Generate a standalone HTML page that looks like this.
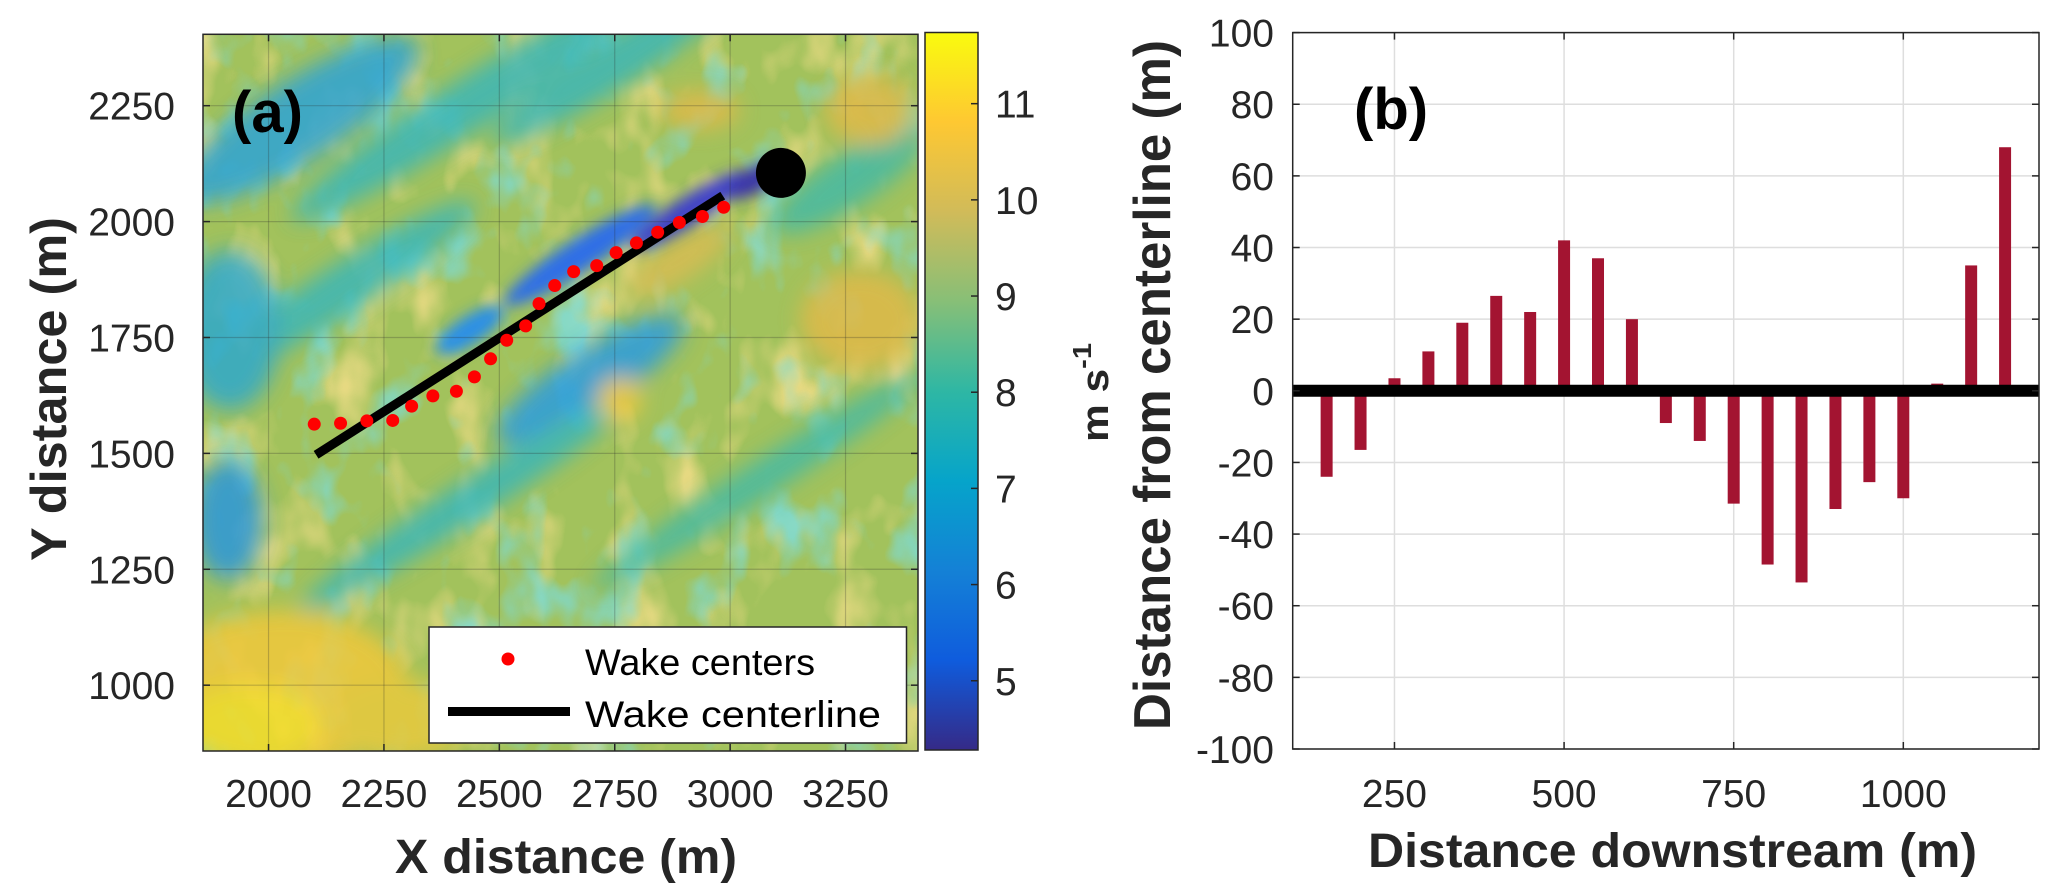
<!DOCTYPE html>
<html><head><meta charset="utf-8"><title>Wake analysis</title>
<style>
html,body{margin:0;padding:0;background:#fff;}
svg{display:block;font-family:"Liberation Sans",Arial,sans-serif;}
</style></head>
<body>
<svg id="fig" width="2064" height="895" viewBox="0 0 2064 895" xmlns="http://www.w3.org/2000/svg">
<defs>
  <filter id="blur1" x="-50%" y="-50%" width="200%" height="200%"><feGaussianBlur stdDeviation="11"/></filter>
  <filter id="blur2" x="-50%" y="-50%" width="200%" height="200%"><feGaussianBlur stdDeviation="7"/></filter>
  <filter id="noiseWarm" x="0" y="0" width="100%" height="100%">
    <feTurbulence type="fractalNoise" baseFrequency="0.018 0.012" numOctaves="3" seed="4"/>
    <feColorMatrix type="matrix" values="0 0 0 0 0.93  0 0 0 0 0.74  0 0 0 0 0.26  3.2 0 0 0 -1.65"/>
  </filter>
  <filter id="noiseCool" x="0" y="0" width="100%" height="100%">
    <feTurbulence type="fractalNoise" baseFrequency="0.02 0.014" numOctaves="3" seed="11"/>
    <feColorMatrix type="matrix" values="0 0 0 0 0.2  0 0 0 0 0.72  0 0 0 0 0.72  3.2 0 0 0 -1.7"/>
  </filter>
  <clipPath id="clipA"><rect x="203" y="34.3" width="715" height="716.7"/></clipPath>
  <linearGradient id="parula" x1="0" y1="1" x2="0" y2="0">
    <stop offset="0" stop-color="#352A87"/>
    <stop offset="0.125" stop-color="#0F5CDD"/>
    <stop offset="0.25" stop-color="#1481D6"/>
    <stop offset="0.375" stop-color="#06A4CA"/>
    <stop offset="0.5" stop-color="#2EB7A4"/>
    <stop offset="0.625" stop-color="#87BF77"/>
    <stop offset="0.75" stop-color="#D1BB59"/>
    <stop offset="0.875" stop-color="#FEC832"/>
    <stop offset="1" stop-color="#F9FB0E"/>
  </linearGradient>
</defs>

<g id="heatmap" clip-path="url(#clipA)">
  <rect x="203" y="34.3" width="715" height="716.7" fill="#a2c25c"/>
  <rect x="203" y="34.3" width="715" height="716.7" filter="url(#noiseWarm)" opacity="0.8"/>
  <rect x="203" y="34.3" width="715" height="716.7" filter="url(#noiseCool)" opacity="0.8"/>
  <g filter="url(#blur1)" opacity="0.85">
    <ellipse cx="300" cy="120" rx="140" ry="40" fill="#2ea3d6" transform="rotate(-33 300 120)"/>
    <ellipse cx="460" cy="110" rx="200" ry="26" fill="#3bb6b8" transform="rotate(-33 460 110)"/>
    <ellipse cx="620" cy="60" rx="150" ry="24" fill="#3bb6b8" transform="rotate(-33 620 60)"/>
    <ellipse cx="340" cy="290" rx="160" ry="24" fill="#3bb6b8" transform="rotate(-33 340 290)"/>
    <ellipse cx="230" cy="330" rx="50" ry="80" fill="#2fa8cc"/>
    <ellipse cx="228" cy="520" rx="35" ry="60" fill="#2a96dc"/>
    <ellipse cx="590" cy="380" rx="110" ry="30" fill="#2a9be0" transform="rotate(-33 590 380)"/>
    <ellipse cx="470" cy="500" rx="200" ry="20" fill="#3bb6b8" transform="rotate(-33 470 500)"/>
    <ellipse cx="760" cy="480" rx="200" ry="18" fill="#45b9a5" transform="rotate(-33 760 480)"/>
    <ellipse cx="850" cy="180" rx="90" ry="26" fill="#45b9a5" transform="rotate(-33 850 180)"/>
    <ellipse cx="860" cy="320" rx="60" ry="50" fill="#e0b94a"/>
    <ellipse cx="870" cy="110" rx="45" ry="35" fill="#e0b94a"/>
    <ellipse cx="700" cy="110" rx="40" ry="20" fill="#e0b94a"/>
    <ellipse cx="620" cy="400" rx="22" ry="22" fill="#f0c840"/>
    <ellipse cx="280" cy="690" rx="130" ry="80" fill="#f1c83a"/>
    <ellipse cx="250" cy="725" rx="70" ry="40" fill="#f6dd2c"/>
    <ellipse cx="400" cy="720" rx="70" ry="40" fill="#e9c93d"/>
    <ellipse cx="680" cy="260" rx="60" ry="20" fill="#d9bc52" transform="rotate(-33 680 260)"/>
  </g>
  <g filter="url(#blur2)">
    <ellipse cx="470" cy="330" rx="40" ry="14" fill="#2b8fe6" transform="rotate(-33 470 330)"/>
    <ellipse cx="580" cy="255" rx="90" ry="16" fill="#2f6ee6" transform="rotate(-33 580 255)"/>
    <ellipse cx="690" cy="210" rx="70" ry="14" fill="#4143c8" transform="rotate(-33 690 210)"/>
    <ellipse cx="755" cy="180" rx="30" ry="12" fill="#3b35a8" transform="rotate(-33 755 180)"/>
  </g>
</g>
<g id="gridA"></g>
<rect x="203" y="34.3" width="715" height="716.7" fill="none" stroke="#262626" stroke-width="1.5"/>
<g id="axesA"></g>
<g id="marksA"></g>
<text x="232" y="132" font-size="58" font-weight="bold" fill="#000">(a)</text>

<g>
  <rect x="429" y="627" width="477.5" height="116" fill="#fff" stroke="#262626" stroke-width="1.5"/>
  <circle cx="508" cy="659" r="6.5" fill="#ff0000"/>
  <text x="585" y="675" font-size="37" fill="#000" textLength="230" lengthAdjust="spacingAndGlyphs">Wake centers</text>
  <line x1="448" y1="711.5" x2="570" y2="711.5" stroke="#000" stroke-width="9"/>
  <text x="585" y="727" font-size="37" fill="#000" textLength="296" lengthAdjust="spacingAndGlyphs">Wake centerline</text>
</g>

<rect x="925" y="32.5" width="53" height="717.5" fill="url(#parula)" stroke="#262626" stroke-width="1.5"/>
<g id="cbTicks"></g>
<text transform="translate(1108,442) rotate(-90)" font-size="38" font-weight="bold" fill="#262626" textLength="99" lengthAdjust="spacingAndGlyphs">m s<tspan font-size="26" dy="-17">-1</tspan></text>

<text transform="translate(66,561) rotate(-90)" font-size="50" font-weight="bold" fill="#262626" textLength="344" lengthAdjust="spacingAndGlyphs">Y distance (m)</text>
<text x="395" y="873" font-size="48" font-weight="bold" fill="#262626" textLength="342" lengthAdjust="spacingAndGlyphs">X distance (m)</text>

<g id="gridB"></g>
<g id="barsB"></g>
<g id="axesB"></g>
<rect x="1292.7" y="32.6" width="746.3" height="716.4" fill="none" stroke="#262626" stroke-width="1.5"/>
<text x="1354" y="129" font-size="58" font-weight="bold" fill="#000">(b)</text>
<text transform="translate(1170,730) rotate(-90)" font-size="52" font-weight="bold" fill="#262626" textLength="690" lengthAdjust="spacingAndGlyphs">Distance  from  centerline (m)</text>
<text x="1368" y="867" font-size="48" font-weight="bold" fill="#262626" textLength="609" lengthAdjust="spacingAndGlyphs">Distance  downstream (m)</text>

<script>
// ---- Panel A data ----
const aXTicks = [2000, 2250, 2500, 2750, 3000, 3250];
const aYTicks = [1000, 1250, 1500, 1750, 2000, 2250];
const wakeX = [2099, 2156, 2213, 2269, 2310, 2356, 2407, 2446, 2481, 2516, 2557, 2586, 2620, 2661, 2711, 2753, 2797, 2843, 2890, 2940, 2986];
const wakeY = [1563, 1565, 1570, 1571, 1602, 1624, 1634, 1665, 1704, 1744, 1775, 1823, 1862, 1892, 1905, 1933, 1954, 1977, 1998, 2011, 2031];
const lineX = [2103, 2984];
const lineY = [1497, 2056];
const turbineX = [3110];
const turbineY = [2105];
const cbTicks = [5, 6, 7, 8, 9, 10, 11];
// ---- Panel B data ----
const bCategories = [150, 200, 250, 300, 350, 400, 450, 500, 550, 600, 650, 700, 750, 800, 850, 900, 950, 1000, 1050, 1100, 1150];
const bValues = [-24, -16.5, 3.5, 11, 19, 26.5, 22, 42, 37, 20, -9, -14, -31.5, -48.5, -53.5, -33, -25.5, -30, 2, 35, 68];
const bXTicks = [250, 500, 750, 1000];
const bYTicks = [-100, -80, -60, -40, -20, 0, 20, 40, 60, 80, 100];

const NS = "http://www.w3.org/2000/svg";
function mk(tag, attrs, parent) {
  const e = document.createElementNS(NS, tag);
  for (const k in attrs) e.setAttribute(k, attrs[k]);
  parent.appendChild(e);
  return e;
}
const A = {x0: 203, x1: 918, y0: 34.3, y1: 751, xmin: 1858, xmax: 3407, ymin: 858, ymax: 2404};
function xA(v) { return A.x0 + (v - A.xmin) / (A.xmax - A.xmin) * (A.x1 - A.x0); }
function yA(v) { return A.y0 + (A.ymax - v) / (A.ymax - A.ymin) * (A.y1 - A.y0); }
const CB = {y0: 32.5, y1: 750, vmin: 4.28, vmax: 11.74};
function yCB(v) { return CB.y1 - (v - CB.vmin) / (CB.vmax - CB.vmin) * (CB.y1 - CB.y0); }
const B = {x0: 1292.7, x1: 2039, y0: 32.6, y1: 749, xmin: 100, xmax: 1200, ymin: -100, ymax: 100};
function xB(v) { return B.x0 + (v - B.xmin) / (B.xmax - B.xmin) * (B.x1 - B.x0); }
function yB(v) { return B.y0 + (B.ymax - v) / (B.ymax - B.ymin) * (B.y1 - B.y0); }

const gA = document.getElementById('gridA');
const axA = document.getElementById('axesA');
aXTicks.forEach(t => {
  const x = xA(t);
  const g = mk('line', {x1: x, x2: x, y1: A.y0, y2: A.y1, stroke: 'rgba(40,40,40,0.25)', 'stroke-width': 1.2}, gA);
  
  
  mk('line', {x1: x, x2: x, y1: A.y1, y2: A.y1 - 7, stroke: '#262626', 'stroke-width': 1.5}, axA);
  mk('line', {x1: x, x2: x, y1: A.y0, y2: A.y0 + 7, stroke: '#262626', 'stroke-width': 1.5}, axA);
  const tx = mk('text', {x: x, y: 807, 'font-size': 39, 'text-anchor': 'middle', fill: '#262626'}, axA);
  tx.textContent = t;
  
  
});
aYTicks.forEach(t => {
  const y = yA(t);
  const g = mk('line', {x1: A.x0, x2: A.x1, y1: y, y2: y, stroke: 'rgba(40,40,40,0.25)', 'stroke-width': 1.2}, gA);
  
  
  mk('line', {x1: A.x0, x2: A.x0 + 7, y1: y, y2: y, stroke: '#262626', 'stroke-width': 1.5}, axA);
  mk('line', {x1: A.x1, x2: A.x1 - 7, y1: y, y2: y, stroke: '#262626', 'stroke-width': 1.5}, axA);
  const tx = mk('text', {x: 175, y: y + 14, 'font-size': 39, 'text-anchor': 'end', fill: '#262626'}, axA);
  tx.textContent = t;
  
  
});
const mA = document.getElementById('marksA');
const cl = mk('line', {x1: xA(lineX[0]), y1: yA(lineY[0]), x2: xA(lineX[1]), y2: yA(lineY[1]), stroke: '#000', 'stroke-width': 9}, mA);


wakeX.forEach((v, i) => {
  const c = mk('circle', {cx: xA(v), cy: yA(wakeY[i]), r: 6.5, fill: '#ff0000'}, mA);
  
  
});
const tb = mk('circle', {cx: xA(turbineX[0]), cy: yA(turbineY[0]), r: 25, fill: '#000'}, mA);



const cbg = document.getElementById('cbTicks');
cbTicks.forEach(t => {
  const y = yCB(t);
  mk('line', {x1: 978, x2: 971, y1: y, y2: y, stroke: '#262626', 'stroke-width': 1.5}, cbg);
  const tx = mk('text', {x: 995, y: y + 14, 'font-size': 39, fill: '#262626'}, cbg);
  tx.textContent = t;
  
  
});

const gB = document.getElementById('gridB');
const axB = document.getElementById('axesB');
const barsB = document.getElementById('barsB');
bXTicks.forEach(t => {
  const x = xB(t);
  const g = mk('line', {x1: x, x2: x, y1: B.y0, y2: B.y1, stroke: '#dedede', 'stroke-width': 1.5}, gB);
  
  
  mk('line', {x1: x, x2: x, y1: B.y1, y2: B.y1 - 7, stroke: '#262626', 'stroke-width': 1.5}, axB);
  mk('line', {x1: x, x2: x, y1: B.y0, y2: B.y0 + 7, stroke: '#262626', 'stroke-width': 1.5}, axB);
  const tx = mk('text', {x: x, y: 807, 'font-size': 39, 'text-anchor': 'middle', fill: '#262626'}, axB);
  tx.textContent = t;
  
  
});
bYTicks.forEach(t => {
  const y = yB(t);
  const g = mk('line', {x1: B.x0, x2: B.x1, y1: y, y2: y, stroke: '#dedede', 'stroke-width': 1.5}, gB);
  
  
  mk('line', {x1: B.x0, x2: B.x0 + 7, y1: y, y2: y, stroke: '#262626', 'stroke-width': 1.5}, axB);
  mk('line', {x1: B.x1, x2: B.x1 - 7, y1: y, y2: y, stroke: '#262626', 'stroke-width': 1.5}, axB);
  const tx = mk('text', {x: 1274, y: y + 14, 'font-size': 39, 'text-anchor': 'end', fill: '#262626'}, axB);
  tx.textContent = t;
  
  
});
const bw = 12;
bCategories.forEach((c, i) => {
  const v = bValues[i];
  const y0 = yB(0), y1 = yB(v);
  const r = mk('rect', {x: xB(c) - bw / 2, y: Math.min(y0, y1), width: bw, height: Math.abs(y1 - y0), fill: '#a31431'}, barsB);
  
  
});
const zl = mk('line', {x1: B.x0, x2: B.x1, y1: yB(0), y2: yB(0), stroke: '#000', 'stroke-width': 12}, barsB);


</script>
</svg>
</body></html>
